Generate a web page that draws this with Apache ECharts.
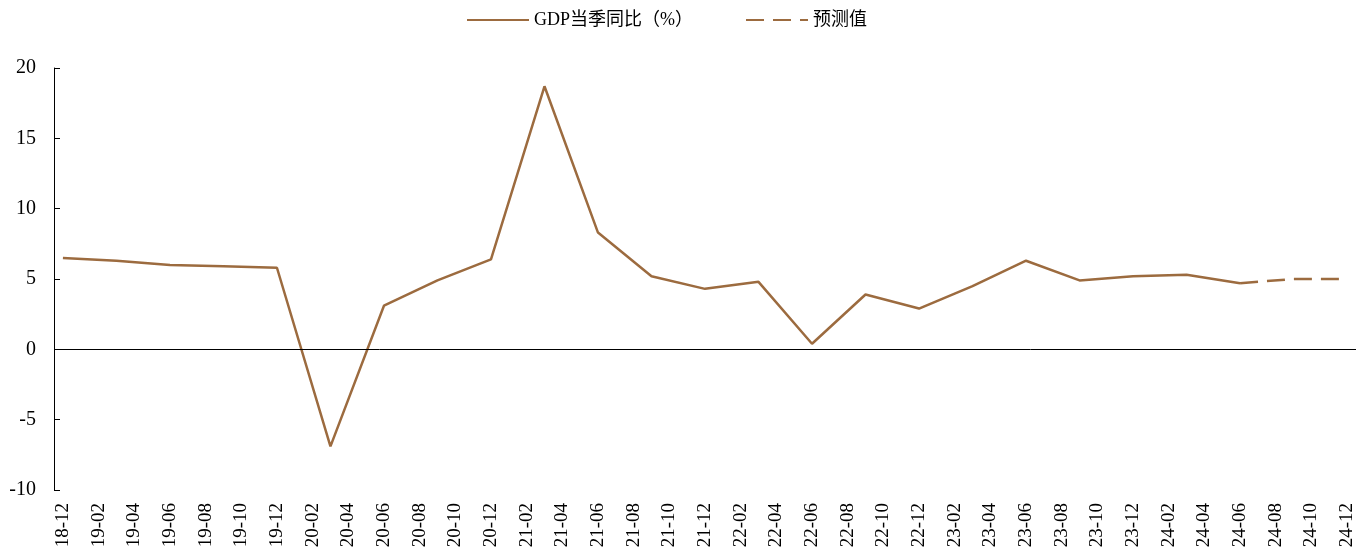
<!DOCTYPE html>
<html>
<head>
<meta charset="utf-8">
<script src="https://cdn.jsdelivr.net/npm/echarts@6/dist/echarts.min.js"></script>
<style>
  html, body { margin: 0; padding: 0; background: #fff; }
  #chart { width: 1369px; height: 554px; }
</style>
</head>
<body>
<div id="chart"></div>
<script>
// Monthly category axis (labels shown every other month)
var months = [
	"18-12",
	"19-01","19-02","19-03","19-04","19-05","19-06","19-07","19-08","19-09","19-10","19-11","19-12",
	"20-01","20-02","20-03","20-04","20-05","20-06","20-07","20-08","20-09","20-10","20-11","20-12",
	"21-01","21-02","21-03","21-04","21-05","21-06","21-07","21-08","21-09","21-10","21-11","21-12",
	"22-01","22-02","22-03","22-04","22-05","22-06","22-07","22-08","22-09","22-10","22-11","22-12",
	"23-01","23-02","23-03","23-04","23-05","23-06","23-07","23-08","23-09","23-10","23-11","23-12",
	"24-01","24-02","24-03","24-04","24-05","24-06","24-07","24-08","24-09","24-10","24-11","24-12"
];

// Quarterly GDP yoy (%)
var gdpQuarters = [
	"18-12","19-03","19-06","19-09","19-12",
	"20-03","20-06","20-09","20-12",
	"21-03","21-06","21-09","21-12",
	"22-03","22-06","22-09","22-12",
	"23-03","23-06","23-09","23-12",
	"24-03","24-06"
];
var gdpValues = [
	6.5, 6.3, 6.0, 5.9, 5.8,
	-6.9, 3.1, 4.9, 6.4,
	18.7, 8.3, 5.2, 4.3,
	4.8, 0.4, 3.9, 2.9,
	4.5, 6.3, 4.9, 5.2,
	5.3, 4.7
];

// Forecast (starts from last actual)
var forecastQuarters = ["24-06", "24-09", "24-12"];
var forecastValues = [4.7, 5.0, 5.0];

var lineColor = "#9c6b3f";
var serifFont = "'Liberation Serif', 'Times New Roman', 'Noto Sans CJK SC', serif";

function pairs(xs, ys) {
	return xs.map(function (x, i) { return [x, ys[i]]; });
}

var chart = echarts.init(document.getElementById("chart"));

chart.setOption({
	animation: false,
	backgroundColor: "#fff",
	legend: {
		top: 6,
		left: 461,
		itemWidth: 62,
		itemHeight: 10,
		itemGap: 52,
		// hide the little circle ECharts puts on line legend icons
		itemStyle: { color: "rgba(0,0,0,0)", borderWidth: 0 },
		textStyle: { fontFamily: serifFont, fontSize: 18, color: "#000" },
		data: ["GDP当季同比（%）", "预测值"]
	},
	grid: { left: 54, right: 13, top: 68, bottom: 64 },
	xAxis: {
		type: "category",
		data: months,
		boundaryGap: true,
		axisLine: { show: false, onZero: false },
		axisTick: { show: false },
		axisLabel: {
			interval: 1,
			rotate: 90,
			margin: 13,
			fontFamily: serifFont,
			fontSize: 19,
			color: "#000"
		}
	},
	yAxis: {
		type: "value",
		min: -10,
		max: 20,
		interval: 5,
		axisLine: { show: true, lineStyle: { color: "#000", width: 1 } },
		axisTick: { show: true, inside: true, length: 6, lineStyle: { color: "#000" } },
		axisLabel: { fontFamily: serifFont, fontSize: 20, color: "#000", margin: 18 },
		splitLine: { show: false }
	},
	series: [
		{
			name: "GDP当季同比（%）",
			type: "line",
			data: pairs(gdpQuarters, gdpValues),
			symbol: "none",
			lineStyle: { color: lineColor, width: 2.5 },
			itemStyle: { color: lineColor },
			markLine: {
				silent: true,
				symbol: "none",
				label: { show: false },
				lineStyle: { color: "#000", width: 1, type: "solid" },
				data: [{ yAxis: 0 }]
			}
		},
		{
			name: "预测值",
			type: "line",
			data: pairs(forecastQuarters, forecastValues),
			symbol: "none",
			lineStyle: { color: lineColor, width: 2.5, type: [18, 9] },
			itemStyle: { color: lineColor }
		}
	]
});
</script>
</body>
</html>
